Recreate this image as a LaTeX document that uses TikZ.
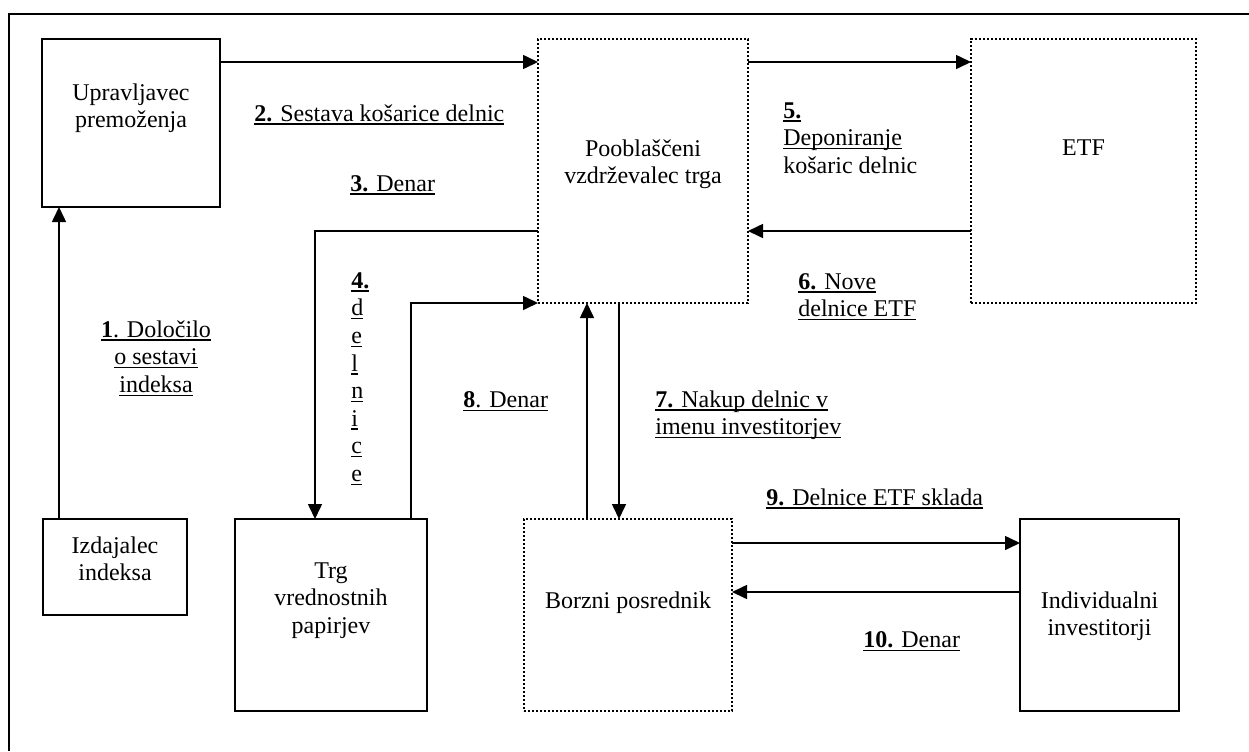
\documentclass[tikz,border=0pt]{standalone}
\usepackage{fontspec}
\setmainfont{Liberation Serif}
\usetikzlibrary{arrows.meta, calc, positioning}
\newsavebox\ulnbox
\newcommand{\uln}[1]{\sbox\ulnbox{#1}\leavevmode\rlap{\vrule width\wd\ulnbox height -1.1pt depth 1.8pt}\usebox\ulnbox}

\begin{document}
\begin{tikzpicture}[x=0.5pt, y=-0.5pt, font=\fontsize{12}{13.8}\selectfont]
\tikzstyle{box}=[draw=black, line width=0.8pt, inner sep=0pt, outer sep=0pt]
\tikzstyle{dotbox}=[box, dash pattern=on 1.1pt off 0.9pt, line width=1.2pt]
\tikzstyle{flow}=[-{Triangle[length=7.5pt,width=7pt]}, line width=0.8pt]
\tikzstyle{txt}=[align=center, inner sep=0pt]
\tikzstyle{lbl}=[align=left, inner sep=0pt, anchor=north west]

\useasboundingbox (0,0) rectangle (1249,751);
\draw[line width=1.4pt] (1249,14) -| (9,751);

% boxes
\node[box, minimum width=89pt, minimum height=84pt] (upr) at (131,123) {};
\node[dotbox, minimum width=105pt, minimum height=132pt] (poo) at (643,171) {};
\node[dotbox, minimum width=112.5pt, minimum height=132pt] (etf) at (1083.5,171) {};
\node[box, minimum width=72pt, minimum height=48pt] (izd) at (115,567) {};
\node[box, minimum width=96pt, minimum height=96pt] (trg) at (331,615) {};
\node[dotbox, minimum width=104pt, minimum height=96pt] (bor) at (628,615) {};
\node[box, minimum width=79.5pt, minimum height=96pt] (ind) at (1099.5,615) {};

\node[txt, below=22pt of upr.north] (uprtxt) {Upravljavec\\premoženja};
\node[txt, below=50pt of poo.north] (pootxt) {Pooblaščeni\\vzdrževalec trga};
\node[txt, below=50pt of etf.north] (etftxt) {ETF};
\node[txt, below=8.5pt of izd.north] (izdtxt) {Izdajalec\\indeksa};
\node[txt, below=21.5pt of trg.north] (trgtxt) {Trg\\vrednostnih\\papirjev};
\node[txt, below=36pt of bor.north] (bortxt) {Borzni posrednik};
\node[txt, below=36pt of ind.north] (indtxt) {Individualni\\investitorji};

% connector ends
\coordinate (c1) at ([xshift=8pt]izd.north west);
\coordinate (c2) at ([yshift=-11.5pt]upr.north east);
\coordinate (c3) at ([yshift=-96pt]poo.north west);
\coordinate (c4) at ([xshift=40pt]trg.north west);
\coordinate (c5) at ([yshift=-11.5pt]poo.north east);
\coordinate (c6) at ([yshift=-96pt]etf.north west);
\coordinate (c7) at ([xshift=40.5pt]poo.south west);
\coordinate (c8) at ([xshift=-8pt]trg.north east);
\coordinate (c7b) at ([xshift=31.5pt]bor.north west);
\coordinate (c9) at ([yshift=-12pt]bor.north east);
\coordinate (c10) at ([yshift=-36.5pt]ind.north west);

\draw[flow] (c1) -- (c1 |- upr.south);
\draw[flow] (c2) -- (c2 -| poo.west);
\draw[flow] (c3) -| (c4);
\draw[flow] (c5) -- (c5 -| etf.west);
\draw[flow] (c6) -- (c6 -| poo.east);
\draw[flow] (c7) -- (c7 |- bor.north);
\draw[flow] (c8) |- (poo.south west);
\draw[flow] (c7b) -- (c7b |- poo.south);
\draw[flow] (c9) -- (c9 -| ind.west);
\draw[flow] (c10) -- (c10 -| bor.east);

% labels
\node[txt, anchor=north] (l1) at (156,320) {\uln{\textbf{1}. Določilo}\\\uln{o sestavi}\\\uln{indeksa}};
\node[lbl] (l2) at (254,104) {\uln{\textbf{2.} Sestava košarice delnic}};
\node[lbl] (l3) at (350,175) {\uln{\textbf{3.} Denar}};
\node[lbl] (l4) at (351,272) {\uln{\textbf{4.}}\\\uln{d}\\\uln{e}\\\uln{l}\\\uln{n}\\\uln{i}\\\uln{c}\\\uln{e}};
\node[lbl] (l5) at (783,102) {\uln{\textbf{5.}}\\\uln{Deponiranje}\\košaric delnic};
\node[lbl] (l6) at (798,273) {\uln{\textbf{6.} Nove}\\\uln{delnice ETF}};
\node[lbl] (l7) at (655,390) {\uln{\textbf{7.} Nakup delnic v}\\\uln{imenu investitorjev}};
\node[lbl] (l8) at (463,391) {\uln{\textbf{8}. Denar}};
\node[lbl] (l9) at (766,488) {\uln{\textbf{9.} Delnice ETF sklada}};
\node[lbl] (l10) at (863,631) {\uln{\textbf{10.} Denar}};
\end{tikzpicture}
\end{document}
